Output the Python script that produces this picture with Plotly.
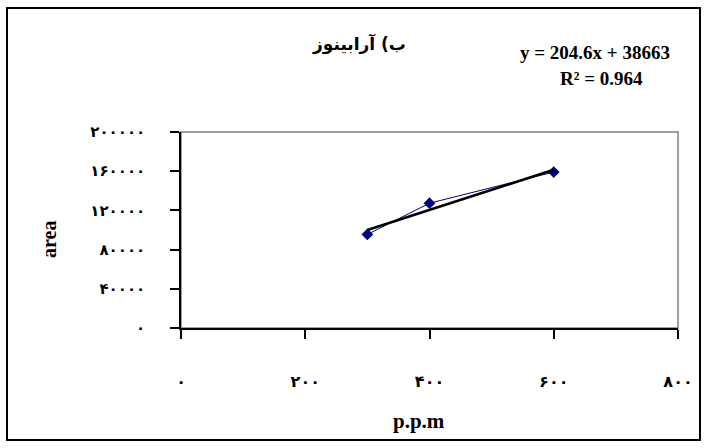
import numpy as np
import plotly.graph_objects as go

# ---- data ----
ppm = [300, 400, 600]
area = [95480, 127350, 159140]
x_tickvals = [0, 200, 400, 600, 800]
x_ticktext = ["۰", "۲۰۰", "۴۰۰", "۶۰۰", "۸۰۰"]
y_tickvals = [0, 40000, 80000, 120000, 160000, 200000]
y_ticktext = ["۰", "۴۰۰۰۰", "۸۰۰۰۰", "۱۲۰۰۰۰", "۱۶۰۰۰۰", "۲۰۰۰۰۰"]
title_text = "ب) آرابینوز"
eq_text = "y = 204.6x + 38663"
r2_text = "R² = 0.964"
x_title = "p.p.m"
y_title = "area"

# linear trendline fitted from the data
slope, intercept = np.polyfit(ppm, area, 1)
fit_x = [min(ppm), max(ppm)]
fit_y = [slope * v + intercept for v in fit_x]

W, H = 708, 448
L, R, T, B = 181, 30, 132, 120
pw, ph = W - L - R, H - T - B

def px(x):
    return (x - L) / pw

def py(y):
    return (H - B - y) / ph

fig = go.Figure()
fig.add_trace(go.Scatter(
    x=ppm, y=area, mode="lines+markers",
    line=dict(color="#000080", width=1),
    marker=dict(symbol="diamond", size=9, color="#000080"),
    showlegend=False, cliponaxis=False,
))
fig.add_trace(go.Scatter(
    x=fit_x, y=fit_y, mode="lines",
    line=dict(color="black", width=2.5),
    showlegend=False,
))

serif = "Liberation Serif, Times New Roman, serif"
fa = "DejaVu Sans, Noto Sans, sans-serif"

fig.update_layout(
    width=W, height=H,
    margin=dict(l=L, r=R, t=T, b=B),
    paper_bgcolor="white", plot_bgcolor="white",
    xaxis=dict(
        range=[0, 800], tickvals=x_tickvals, ticktext=x_ticktext,
        showgrid=False, zeroline=False, showline=True, linecolor="black", linewidth=1.5,
        ticks="outside", ticklen=9, tickcolor="black", tickwidth=1.5,
        ticklabelstandoff=29,
        tickfont=dict(family=fa, size=16, color="black", weight="bold"),
    ),
    yaxis=dict(
        range=[0, 200000], tickvals=y_tickvals, ticktext=y_ticktext,
        showgrid=False, zeroline=False, showline=True, linecolor="black", linewidth=1.5,
        ticks="outside", ticklen=9, tickcolor="black", tickwidth=1.5,
        ticklabelstandoff=22,
        tickfont=dict(family=fa, size=15, color="black", weight="bold"),
    ),
    shapes=[
        dict(type="rect", xref="paper", yref="paper", x0=0, x1=1, y0=0, y1=1,
             line=dict(color="#808080", width=1.5), layer="below"),
        dict(type="rect", xref="paper", yref="paper",
             x0=px(7), x1=px(700), y0=py(440), y1=py(8),
             line=dict(color="black", width=2), layer="below"),
    ],
    annotations=[
        dict(text=title_text, xref="paper", yref="paper", x=px(359), y=py(44),
             showarrow=False, font=dict(family=fa, size=17, color="black", weight="bold"),
             xanchor="center", yanchor="middle"),
        dict(text=eq_text, xref="paper", yref="paper", x=px(595), y=py(52),
             showarrow=False, font=dict(family=serif, size=19, color="black", weight="bold"),
             xanchor="center", yanchor="middle"),
        dict(text=r2_text, xref="paper", yref="paper", x=px(601), y=py(78),
             showarrow=False, font=dict(family=serif, size=19, color="black", weight="bold"),
             xanchor="center", yanchor="middle"),
        dict(text=x_title, xref="paper", yref="paper", x=px(419), y=py(421),
             showarrow=False, font=dict(family=serif, size=21, color="black", weight="bold"),
             xanchor="center", yanchor="middle"),
        dict(text=y_title, xref="paper", yref="paper", x=px(49), y=py(240),
             showarrow=False, textangle=-90,
             font=dict(family=serif, size=20, color="black", weight="bold"),
             xanchor="center", yanchor="middle"),
    ],
)

fig.write_html("out.html")
